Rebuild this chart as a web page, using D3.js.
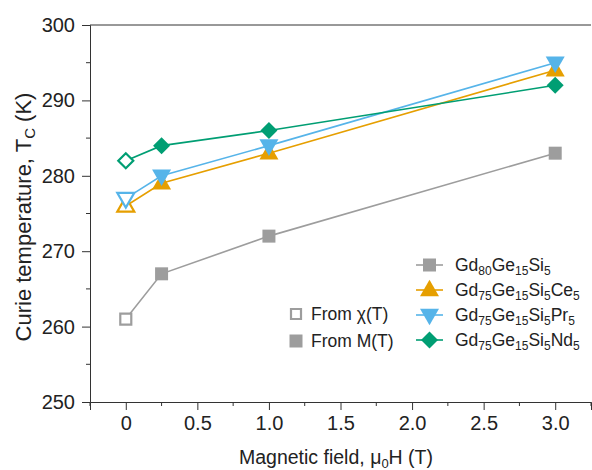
<!DOCTYPE html>
<html>
<head>
<meta charset="utf-8">
<script src="https://cdn.jsdelivr.net/npm/d3@7"></script>
<style>
  body { margin: 0; background: #fff; }
  svg { display: block; font-family: Arial, "Liberation Sans", sans-serif; }
</style>
</head>
<body>
<svg id="chart" width="592" height="470"></svg>
<script>
// ---- data ----
const fields = [0, 0.25, 1, 3];
const gdGeSi = [261, 267, 272, 283];
const gdGeSiCe = [276, 279, 283, 294];
const gdGeSiPr = [277, 280, 284, 295];
const gdGeSiNd = [282, 284, 286, 292];
const xTicks = [0, 0.5, 1.0, 1.5, 2.0, 2.5, 3.0];
const xTickLabels = ["0", "0.5", "1.0", "1.5", "2.0", "2.5", "3.0"];
const yTicks = [250, 260, 270, 280, 290, 300];

const seriesNames = [
  [["Gd", ""], ["80", "sub"], ["Ge", ""], ["15", "sub"], ["Si", ""], ["5", "sub"]],
  [["Gd", ""], ["75", "sub"], ["Ge", ""], ["15", "sub"], ["Si", ""], ["5", "sub"], ["Ce", ""], ["5", "sub"]],
  [["Gd", ""], ["75", "sub"], ["Ge", ""], ["15", "sub"], ["Si", ""], ["5", "sub"], ["Pr", ""], ["5", "sub"]],
  [["Gd", ""], ["75", "sub"], ["Ge", ""], ["15", "sub"], ["Si", ""], ["5", "sub"], ["Nd", ""], ["5", "sub"]]
];
const seriesValues = [gdGeSi, gdGeSiCe, gdGeSiPr, gdGeSiNd];
const seriesColors = ["#9d9d9d", "#e69f00", "#56b4e9", "#009e73"];
const seriesShapes = ["square", "triangle", "triangleDown", "diamond"];

// ---- layout ----
const svg = d3.select("#chart");
const x = d3.scaleLinear().domain([-0.25, 3.25]).range([90, 591]);
const y = d3.scaleLinear().domain([250, 300]).range([402, 25]);
const axisColor = "#333";
const textColor = "#222";

function symbolPath(shape, size) {
  const s = size;
  if (shape === "square") return `M${-s/2},${-s/2}h${s}v${s}h${-s}Z`;
  if (shape === "triangle") { const h = s * 0.87; return `M0,${-h*0.62}L${s/2},${h*0.38}L${-s/2},${h*0.38}Z`; }
  if (shape === "triangleDown") { const h = s * 0.87; return `M0,${h*0.62}L${s/2},${-h*0.38}L${-s/2},${-h*0.38}Z`; }
  if (shape === "diamond") { const r = s / 2; return `M0,${-r}L${r},0L0,${r}L${-r},0Z`; }
}
const shapeSize = { square: 13, triangle: 19, triangleDown: 19, diamond: 17 };
const openSize = { square: 11, triangle: 17, triangleDown: 17, diamond: 15 };

// frame top line
svg.append("line").attr("x1", x(-0.25)).attr("x2", x(3.25)).attr("y1", y(300)).attr("y2", y(300))
  .attr("stroke", axisColor).attr("stroke-width", 1);

// x axis
const xAxis = d3.axisBottom(x).tickValues(xTicks).tickFormat((d, i) => xTickLabels[i]).tickSize(8).tickPadding(6);
const gx = svg.append("g").attr("transform", `translate(0,${y(250)})`).call(xAxis);
gx.attr("font-size", null).attr("font-family", null);
gx.select(".domain").attr("stroke", axisColor);
gx.selectAll(".tick line").attr("stroke", axisColor);
gx.selectAll(".tick text").attr("fill", textColor).attr("font-size", 20).style("font-size", "20px");
const xMinor = d3.range(-0.25, 3.26, 0.5);
gx.selectAll(".minor").data(xMinor).enter().append("line")
  .attr("x1", d => x(d)).attr("x2", d => x(d)).attr("y1", 0).attr("y2", 4).attr("stroke", axisColor);

// y axis
const yAxis = d3.axisLeft(y).tickValues(yTicks).tickSize(8).tickPadding(7);
const gy = svg.append("g").attr("transform", `translate(${x(-0.25)},0)`).call(yAxis);
gy.attr("font-size", null).attr("font-family", null);
gy.select(".domain").attr("stroke", axisColor);
gy.selectAll(".tick line").attr("stroke", axisColor);
gy.selectAll(".tick text").attr("fill", textColor).attr("font-size", 20).style("font-size", "20px");
const yMinor = [255, 265, 275, 285, 295];
gy.selectAll(".minor").data(yMinor).enter().append("line")
  .attr("x1", 0).attr("x2", -4).attr("y1", d => y(d)).attr("y2", d => y(d)).attr("stroke", axisColor);

// axis titles
const xt = svg.append("text").attr("x", 336).attr("y", 464).attr("text-anchor", "middle")
  .attr("fill", textColor).style("font-size", "19.5px");
xt.append("tspan").text("Magnetic field, μ");
xt.append("tspan").text("0").attr("dy", 4).style("font-size", "13px");
xt.append("tspan").text("H (T)").attr("dy", -4);

const yt = svg.append("text").attr("transform", `translate(31,217) rotate(-90)`).attr("text-anchor", "middle")
  .attr("fill", textColor).style("font-size", "22px");
yt.append("tspan").text("Curie temperature, T");
yt.append("tspan").text("C").attr("dy", 4).style("font-size", "15px");
yt.append("tspan").text(" (K)").attr("dy", -4);

// series
const line = d3.line().x((d, i) => x(fields[i])).y(d => y(d));
seriesValues.forEach((vals, si) => {
  const col = seriesColors[si];
  const shape = seriesShapes[si];
  svg.append("path").attr("d", line(vals)).attr("fill", "none").attr("stroke", col).attr("stroke-width", 1.6);
  vals.forEach((v, i) => {
    const g = svg.append("path").attr("transform", `translate(${x(fields[i])},${y(v)})`);
    if (i === 0) {
      g.attr("d", symbolPath(shape, openSize[shape])).attr("fill", "#fff").attr("stroke", col).attr("stroke-width", 2.2);
    } else {
      g.attr("d", symbolPath(shape, shapeSize[shape])).attr("fill", col);
    }
  });
});

// legend: series
const legRows = [265, 290, 315, 340];
seriesNames.forEach((parts, si) => {
  const yy = legRows[si];
  const col = seriesColors[si];
  svg.append("line").attr("x1", 416).attr("x2", 443).attr("y1", yy).attr("y2", yy).attr("stroke", col).attr("stroke-width", 1.6);
  svg.append("path").attr("transform", `translate(429.5,${yy})`).attr("d", symbolPath(seriesShapes[si], shapeSize[seriesShapes[si]])).attr("fill", col);
  const t = svg.append("text").attr("x", 455).attr("y", yy + 6).attr("fill", textColor).style("font-size", "17.5px");
  let prevSub = false;
  parts.forEach(([txt, kind]) => {
    const sp = t.append("tspan").text(txt);
    if (kind === "sub") { sp.style("font-size", "12px").attr("dy", prevSub ? 0 : 4); prevSub = true; }
    else { sp.attr("dy", prevSub ? -4 : 0); prevSub = false; }
  });
});

// legend: source type
const srcLabels = ["From χ(T)", "From M(T)"];
const srcRows = [314, 341];
srcLabels.forEach((lab, i) => {
  const p = svg.append("path").attr("transform", `translate(296,${srcRows[i]})`);
  if (i === 0) p.attr("d", symbolPath("square", 10)).attr("fill", "#fff").attr("stroke", seriesColors[0]).attr("stroke-width", 2.2);
  else p.attr("d", symbolPath("square", 13)).attr("fill", seriesColors[0]);
  svg.append("text").attr("x", 311).attr("y", srcRows[i] + 6).attr("fill", textColor).style("font-size", "17.5px").text(lab);
});
</script>
</body>
</html>
